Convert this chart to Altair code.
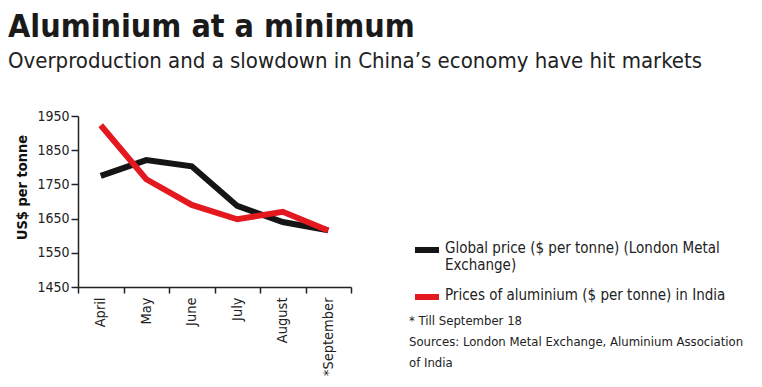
import altair as alt
import pandas as pd

months = ["April", "May", "June", "July", "August", "*September"]
global_price = [1775, 1821, 1803, 1687, 1640, 1616]
india_price = [1923, 1765, 1690, 1648, 1670, 1615]
series_global = "Global price ($ per tonne) (London Metal Exchange)"
series_india = "Prices of aluminium ($ per tonne) in India"
y_ticks = [1450, 1550, 1650, 1750, 1850, 1950]
notes = ["* Till September 18",
         "Sources: London Metal Exchange, Aluminium Association",
         "of India"]

rows = []
for m, g, i in zip(months, global_price, india_price):
    rows.append({"month": m, "series": series_global, "price": g})
    rows.append({"month": m, "series": series_india, "price": i})
df = pd.DataFrame(rows)

FONT = "DejaVu Sans Condensed, DejaVu Sans, sans-serif"

lines = alt.Chart(df).mark_line(strokeWidth=6, strokeCap="butt", strokeJoin="miter").encode(
    x=alt.X("month:N", sort=months, title=None,
            scale=alt.Scale(paddingInner=0, paddingOuter=0),
            axis=alt.Axis(labelAngle=-90, tickBand="extent", tickSize=6,
                          labelPadding=4, labelFontSize=14.5, labelColor="#222",
                          labelFont=FONT, domainColor="#222", tickColor="#222",
                          domainWidth=1.5, tickWidth=1.5)),
    y=alt.Y("price:Q", title="US$ per tonne",
            scale=alt.Scale(domain=[1450, 1950], nice=False, zero=False),
            axis=alt.Axis(values=y_ticks, format="d", tickSize=7, labelPadding=2,
                          labelFontSize=14, labelColor="#222", labelFont=FONT,
                          domainColor="#222", tickColor="#222",
                          domainWidth=1.5, tickWidth=1.5, grid=False,
                          titleFont=FONT, titleFontSize=14.5, titleFontWeight="bold",
                          titleColor="#111", titleX=-56, titleY=71,
                          titleAlign="center", titleBaseline="middle")),
    color=alt.Color("series:N",
                    scale=alt.Scale(domain=[series_global, series_india],
                                    range=["#151515", "#e3191f"]),
                    legend=alt.Legend(title=None, orient="none", legendX=334, legendY=110,
                                      symbolType="M-1,0.75L1,0.75", symbolSize=576,
                                      symbolStrokeWidth=6, labelBaseline="top",
                                      labelFont=FONT, labelFontSize=15, labelColor="#222",
                                      labelLimit=400, rowPadding=0, labelOffset=3,
                                      padding=0,
                                      labelExpr="datum.label == '" + series_global + "' ? ['Global price ($ per tonne) (London Metal', 'Exchange)'] : datum.label")),
)

note_text = alt.Chart(pd.DataFrame({"t": [0]})).mark_text(
    align="left", baseline="middle", font=FONT, fontSize=13, color="#222", lineHeight=21
).encode(x=alt.value(331), y=alt.value(205), text=alt.value(notes))

chart = alt.layer(lines, note_text).properties(
    width=273, height=171,
    autosize=alt.AutoSizeParams(type="none"),
    padding={"left": 70, "top": 108, "right": 403, "bottom": 92},
    title=alt.TitleParams(
        text="Aluminium at a minimum",
        subtitle="Overproduction and a slowdown in  China\u2019s economy have hit markets",
        anchor="start", frame="group", dx=-70, offset=36,
        font=FONT, fontSize=32, fontWeight="bold", color="#1a1a1a",
        subtitleFont=FONT, subtitleFontSize=22, subtitleColor="#222",
        subtitlePadding=7),
).configure_view(stroke=None)

chart.save("out.html", embed_options={"renderer": "svg", "actions": False})
